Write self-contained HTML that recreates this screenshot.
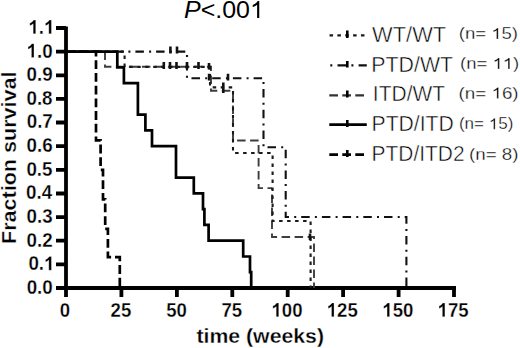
<!DOCTYPE html>
<html><head><meta charset="utf-8">
<style>
html,body{margin:0;padding:0;background:#fff;width:520px;height:348px;overflow:hidden;}
svg{display:block;}
text{font-family:"Liberation Sans",sans-serif;fill:#000;font-kerning:none;}
</style></head>
<body>
<svg width="520" height="348" viewBox="0 0 520 348">
<rect width="520" height="348" fill="#fff"/>
<g stroke="#000" stroke-width="3.8" fill="none">
<path d="M66 26.4V290"/>
<path d="M64.1 288H456"/>
<path d="M56 28.0H66M56 51.6H66M56 75.3H66M56 98.9H66M56 122.5H66M56 146.2H66M56 169.8H66M56 193.5H66M56 217.1H66M56 240.7H66M56 264.4H66M56 288H66"/>
<path d="M66 288V297M121.4 288V297M176.9 288V297M232.3 288V297M287.7 288V297M343.1 288V297M398.6 288V297M454 288V297"/>
</g>
<g fill="none">
<path d="M66 51.6H105V66.7H211V90.8H233V140.5H258.6V188.1H272" stroke="#3d3d3d" stroke-width="1.9" stroke-dasharray="8.5 4.5"/>
<path d="M272 188.1V237H314V288" stroke="#3d3d3d" stroke-width="1.9" stroke-dasharray="8.5 4.5" stroke-dashoffset="6.5"/>
<path d="M66 51.6H124.6V66.9H210V87.4H233V153H272.6V221H310.6V288" stroke="#1a1a1a" stroke-width="2.1" stroke-dasharray="3.5 4.5" stroke-dashoffset="1.5"/>
<path d="M66 51.6H187V78.3H263.5V147.2H285.7V217H406.4V288" stroke="#111" stroke-width="2.1" stroke-dasharray="2 5 8.5 5.2" stroke-dashoffset="20.4"/>
<path d="M66 51.6H96V140.3H100.6V169.8H103V199.4H105.2V228.9H107.9V257.2H119.8V288" stroke="#000" stroke-width="2.7" stroke-dasharray="8.8 3.9" stroke-dashoffset="12.1"/>
<path d="M66 51.6H117.3V67.4H123.9V83.1H137.9V114.7H145.4V130.4H152V146.2H176V177.6H193.8V193.4H203V209.2H204.4V224.9H208.6V240.7H243.2V256.5H250V272.2H251.2V288" stroke="#000" stroke-width="2.7"/>
</g>
<g stroke="#111" stroke-width="2.6" fill="none">
<path d="M170.4 46.5V53.5M177 46.5V53.5"/>
<path d="M163.8 62V69M170 62V69M176.5 62V69M187 62V69M198.5 62V69M209 63V69.5"/>
<path d="M209.1 73.8V80.5M228 73.8V80.5"/>
<path d="M223.3 82.5V93"/>
<path d="M310 233.5V240"/>
</g>
<g fill="none">
<path d="M329.3 35.4H366.8" stroke="#1a1a1a" stroke-width="2.1" stroke-dasharray="3.5 4.35" stroke-dashoffset="7.6"/>
<path d="M329.3 65.4H366.8" stroke="#111" stroke-width="2.1" stroke-dasharray="2 5.2 9.1 4.8" stroke-dashoffset="20.1"/>
<path d="M329.3 95.4H366.8" stroke="#333" stroke-width="2.2" stroke-dasharray="8.7 4.3"/>
<path d="M329.3 124.6H366.8" stroke="#000" stroke-width="2.7"/>
<path d="M329.3 154.6H366.8" stroke="#000" stroke-width="2.7" stroke-dasharray="8.7 4.3"/>
<path d="M347.3 30.5V38M347.3 61V67.5M347.3 90.5V97.5M347.3 120V127M347.3 150V157" stroke="#000" stroke-width="2.6"/>
</g>

<text font-size="24.5" transform="translate(184.03,18.00) scale(1.0194,1)"><tspan font-style="italic">P</tspan>&lt;.00 </text><path transform="translate(184.03,18.00) scale(1.0194,1)" d="M73.8 0.0 71.7 0.0 71.7 -13.3 70.4 -12.3 68.9 -11.5 67.4 -11.1 67.4 -13.1 69.3 -14.0 70.9 -15.2 72.4 -16.9 73.8 -16.9Z"/>
<text font-size="20" stroke="#fff" stroke-width="0.3" transform="translate(26.64,293.90) scale(0.9400,1)"><tspan font-weight="bold">0.0</tspan></text>
<text font-size="20" stroke="#fff" stroke-width="0.3" transform="translate(28.39,270.26) scale(0.9400,1)"><tspan font-weight="bold">0. </tspan></text><path transform="translate(28.39,270.26) scale(0.9400,1)" d="M24.5 0.0 21.7 0.0 21.7 -10.2 20.8 -9.4 19.5 -8.7 18.2 -8.3 18.2 -10.7 19.6 -11.3 20.9 -12.2 22.3 -13.8 24.5 -13.8Z" stroke="#fff" stroke-width="0.3"/>
<text font-size="20" stroke="#fff" stroke-width="0.3" transform="translate(26.62,246.62) scale(0.9400,1)"><tspan font-weight="bold">0.2</tspan></text>
<text font-size="20" stroke="#fff" stroke-width="0.3" transform="translate(26.54,222.98) scale(0.9400,1)"><tspan font-weight="bold">0.3</tspan></text>
<text font-size="20" stroke="#fff" stroke-width="0.3" transform="translate(25.97,199.34) scale(0.9400,1)"><tspan font-weight="bold">0.4</tspan></text>
<text font-size="20" stroke="#fff" stroke-width="0.3" transform="translate(26.39,175.70) scale(0.9400,1)"><tspan font-weight="bold">0.5</tspan></text>
<text font-size="20" stroke="#fff" stroke-width="0.3" transform="translate(26.54,152.06) scale(0.9400,1)"><tspan font-weight="bold">0.6</tspan></text>
<text font-size="20" stroke="#fff" stroke-width="0.3" transform="translate(26.69,128.42) scale(0.9400,1)"><tspan font-weight="bold">0.7</tspan></text>
<text font-size="20" stroke="#fff" stroke-width="0.3" transform="translate(26.44,104.78) scale(0.9400,1)"><tspan font-weight="bold">0.8</tspan></text>
<text font-size="20" stroke="#fff" stroke-width="0.3" transform="translate(26.56,81.14) scale(0.9400,1)"><tspan font-weight="bold">0.9</tspan></text>
<text font-size="20" stroke="#fff" stroke-width="0.3" transform="translate(26.64,57.50) scale(0.9400,1)"><tspan font-weight="bold"> .0</tspan></text><path transform="translate(26.64,57.50) scale(0.9400,1)" d="M7.8 0.0 5.1 0.0 5.1 -10.2 4.1 -9.4 2.8 -8.7 1.5 -8.3 1.5 -10.7 2.9 -11.3 4.2 -12.2 5.6 -13.8 7.8 -13.8Z" stroke="#fff" stroke-width="0.3"/>
<text font-size="20" stroke="#fff" stroke-width="0.3" transform="translate(28.39,33.86) scale(0.9400,1)"><tspan font-weight="bold"> . </tspan></text><path transform="translate(28.39,33.86) scale(0.9400,1)" d="M7.8 0.0 5.1 0.0 5.1 -10.2 4.1 -9.4 2.8 -8.7 1.5 -8.3 1.5 -10.7 2.9 -11.3 4.2 -12.2 5.6 -13.8 7.8 -13.8ZM24.5 0.0 21.7 0.0 21.7 -10.2 20.8 -9.4 19.5 -8.7 18.2 -8.3 18.2 -10.7 19.6 -11.3 20.9 -12.2 22.3 -13.8 24.5 -13.8Z" stroke="#fff" stroke-width="0.3"/>
<text font-size="20" stroke="#fff" stroke-width="0.3" transform="translate(59.64,316.70) scale(0.9300,1)"><tspan font-weight="bold">0</tspan></text>
<text font-size="20" stroke="#fff" stroke-width="0.3" transform="translate(110.62,316.70) scale(0.9300,1)"><tspan font-weight="bold">25</tspan></text>
<text font-size="20" stroke="#fff" stroke-width="0.3" transform="translate(166.21,316.70) scale(0.9300,1)"><tspan font-weight="bold">50</tspan></text>
<text font-size="20" stroke="#fff" stroke-width="0.3" transform="translate(221.40,316.70) scale(0.9300,1)"><tspan font-weight="bold">75</tspan></text>
<text font-size="20" stroke="#fff" stroke-width="0.3" transform="translate(271.47,316.70) scale(0.9300,1)"><tspan font-weight="bold"> 00</tspan></text><path transform="translate(271.47,316.70) scale(0.9300,1)" d="M7.8 0.0 5.1 0.0 5.1 -10.2 4.1 -9.4 2.8 -8.7 1.5 -8.3 1.5 -10.7 2.9 -11.3 4.2 -12.2 5.6 -13.8 7.8 -13.8Z" stroke="#fff" stroke-width="0.3"/>
<text font-size="20" stroke="#fff" stroke-width="0.3" transform="translate(326.78,316.70) scale(0.9300,1)"><tspan font-weight="bold"> 25</tspan></text><path transform="translate(326.78,316.70) scale(0.9300,1)" d="M7.8 0.0 5.1 0.0 5.1 -10.2 4.1 -9.4 2.8 -8.7 1.5 -8.3 1.5 -10.7 2.9 -11.3 4.2 -12.2 5.6 -13.8 7.8 -13.8Z" stroke="#fff" stroke-width="0.3"/>
<text font-size="20" stroke="#fff" stroke-width="0.3" transform="translate(382.33,316.70) scale(0.9300,1)"><tspan font-weight="bold"> 50</tspan></text><path transform="translate(382.33,316.70) scale(0.9300,1)" d="M7.8 0.0 5.1 0.0 5.1 -10.2 4.1 -9.4 2.8 -8.7 1.5 -8.3 1.5 -10.7 2.9 -11.3 4.2 -12.2 5.6 -13.8 7.8 -13.8Z" stroke="#fff" stroke-width="0.3"/>
<text font-size="20" stroke="#fff" stroke-width="0.3" transform="translate(437.63,316.70) scale(0.9300,1)"><tspan font-weight="bold"> 75</tspan></text><path transform="translate(437.63,316.70) scale(0.9300,1)" d="M7.8 0.0 5.1 0.0 5.1 -10.2 4.1 -9.4 2.8 -8.7 1.5 -8.3 1.5 -10.7 2.9 -11.3 4.2 -12.2 5.6 -13.8 7.8 -13.8Z" stroke="#fff" stroke-width="0.3"/>
<text font-size="20.5" stroke="#fff" stroke-width="0.3" transform="translate(196.44,342.90) scale(1.0371,1)"><tspan font-weight="bold">time (weeks)</tspan></text>
<text font-size="20.6" stroke="#fff" stroke-width="0.3" transform="translate(15.70,244.04) rotate(-90) scale(1.0468,1)"><tspan font-weight="bold">Fraction survival</tspan></text>
<text font-size="22" stroke="#fff" stroke-width="0.5" transform="translate(372.10,41.70) scale(0.9944,1)">WT/WT</text>
<text font-size="22" stroke="#fff" stroke-width="0.5" transform="translate(371.35,71.70) scale(0.9694,1)">PTD/WT</text>
<text font-size="22" stroke="#fff" stroke-width="0.5" transform="translate(372.86,101.30) scale(0.9533,1)">ITD/WT</text>
<text font-size="22" stroke="#fff" stroke-width="0.5" transform="translate(371.57,130.50) scale(0.9614,1)">PTD/ITD</text>
<text font-size="22" stroke="#fff" stroke-width="0.5" transform="translate(371.58,160.70) scale(0.9518,1)">PTD/ITD2</text>
<text font-size="16" stroke="#fff" stroke-width="0.3" transform="translate(458.75,39.10) scale(1.1596,1)">(n=  5)</text><path transform="translate(458.75,39.10) scale(1.1596,1)" d="M34.0 0.0 32.6 0.0 32.6 -8.7 31.8 -8.0 30.8 -7.5 29.8 -7.2 29.8 -8.6 31.0 -9.1 32.1 -9.9 33.1 -11.0 34.0 -11.0Z" stroke="#fff" stroke-width="0.3"/>
<text font-size="16" stroke="#fff" stroke-width="0.3" transform="translate(460.10,68.90) scale(1.1565,1)">(n=   )</text><path transform="translate(460.10,68.90) scale(1.1565,1)" d="M34.0 0.0 32.6 0.0 32.6 -8.7 31.8 -8.0 30.8 -7.5 29.8 -7.2 29.8 -8.6 31.0 -9.1 32.1 -9.9 33.1 -11.0 34.0 -11.0ZM42.9 0.0 41.5 0.0 41.5 -8.7 40.7 -8.0 39.6 -7.5 38.6 -7.2 38.6 -8.6 39.9 -9.1 41.0 -9.9 42.0 -11.0 42.9 -11.0Z" stroke="#fff" stroke-width="0.3"/>
<text font-size="16" stroke="#fff" stroke-width="0.3" transform="translate(458.53,98.50) scale(1.1758,1)">(n=  6)</text><path transform="translate(458.53,98.50) scale(1.1758,1)" d="M34.0 0.0 32.6 0.0 32.6 -8.7 31.8 -8.0 30.8 -7.5 29.8 -7.2 29.8 -8.6 31.0 -9.1 32.1 -9.9 33.1 -11.0 34.0 -11.0Z" stroke="#fff" stroke-width="0.3"/>
<text font-size="16" stroke="#fff" stroke-width="0.3" transform="translate(458.94,129.30) scale(1.0640,1)">(n=  5)</text><path transform="translate(458.94,129.30) scale(1.0640,1)" d="M34.0 0.0 32.6 0.0 32.6 -8.7 31.8 -8.0 30.8 -7.5 29.8 -7.2 29.8 -8.6 31.0 -9.1 32.1 -9.9 33.1 -11.0 34.0 -11.0Z" stroke="#fff" stroke-width="0.3"/>
<text font-size="16" stroke="#fff" stroke-width="0.3" transform="translate(469.04,159.70) scale(1.1724,1)">(n= 8)</text>
</svg>
</body></html>
